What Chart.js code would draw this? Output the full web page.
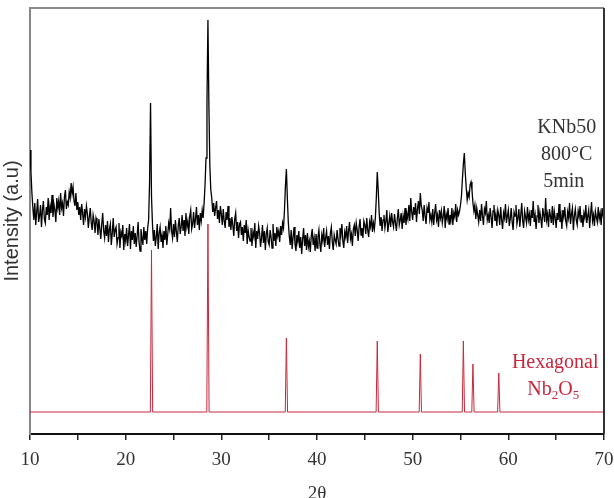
<!DOCTYPE html>
<html>
<head>
<meta charset="utf-8">
<title>KNb50 XRD</title>
<script src="https://cdn.jsdelivr.net/npm/chart.js@4/dist/chart.umd.min.js"></script>
<style>
    body { margin: 0; background: #fff; }
    #wrap { width: 614px; height: 498px; }
</style>
</head>
<body>
<div id="wrap"><canvas id="xrd" width="614" height="498"></canvas></div>
<script>
// 2-theta grid of the measured pattern: 10 to 70 deg, every 0.1 deg
const thetaStart = 10;
const thetaStep = 0.1;

// KNb50, 800°C, 5 min - intensity (arb. units), one row per degree
const sampleIntensity = [
    284, 262, 241, 226, 214, 231, 209, 222, 235, 212,  // 10
    218, 229, 207, 224, 233, 215, 211, 227, 219, 236,  // 11
    214, 228, 221, 239, 217, 230, 224, 212, 236, 226,  // 12
    233, 219, 241, 226, 231, 218, 237, 244, 225, 232,  // 13
    229, 242, 236, 251, 240, 247, 233, 228, 241, 224,  // 14
    232, 219, 227, 214, 230, 221, 209, 225, 217, 228,  // 15
    220, 206, 217, 226, 211, 204, 219, 213, 201, 216,  // 16
    212, 199, 215, 205, 195, 210, 221, 203, 196, 209,  // 17
    198, 213, 192, 205, 210, 189, 201, 216, 197, 204,  // 18
    207, 190, 196, 211, 186, 202, 198, 209, 184, 200,  // 19
    193, 206, 188, 199, 210, 185, 203, 194, 208, 190,  // 20
    201, 187, 198, 212, 192, 183, 205, 196, 189, 207,  // 21
    194, 203, 190, 206, 214, 252, 331, 238, 210, 193,  // 22
    204, 188, 197, 210, 185, 201, 207, 192, 199, 186,  // 23
    203, 194, 208, 189, 200, 211, 205, 226, 203, 196,  // 24
    210, 197, 214, 202, 192, 209, 216, 200, 207, 219,  // 25
    203, 214, 198, 221, 207, 213, 200, 218, 224, 205,  // 26
    210, 222, 206, 215, 227, 209, 219, 204, 221, 213,  // 27
    224, 216, 231, 250, 276, 332, 414, 328, 268, 244,  // 28
    236, 222, 231, 218, 226, 233, 215, 224, 211, 228,  // 29
    220, 209, 225, 213, 206, 222, 214, 228, 207, 216,  // 30
    204, 217, 209, 198, 215, 221, 203, 212, 196, 210,  // 31
    212, 199, 207, 193, 209, 201, 214, 190, 204, 197,  // 32
    193, 206, 188, 202, 197, 211, 186, 203, 195, 208,  // 33
    201, 187, 196, 209, 191, 203, 184, 200, 206, 192,  // 34
    189, 204, 197, 186, 210, 193, 201, 188, 207, 198,  // 35
    203, 192, 208, 199, 211, 206, 224, 248, 265, 236,  // 36
    212, 198, 189, 204, 185, 197, 207, 190, 183, 199,  // 37
    192, 203, 186, 197, 180, 195, 206, 188, 199, 184,  // 38
    201, 187, 193, 182, 198, 205, 189, 196, 183, 200,  // 39
    186, 197, 204, 190, 182, 199, 193, 206, 187, 196,  // 40
    203, 189, 198, 185, 201, 207, 192, 184, 199, 194,  // 41
    190, 204, 195, 188, 206, 199, 210, 193, 186, 202,  // 42
    197, 208, 191, 203, 212, 195, 200, 188, 205, 209,  // 43
    198, 211, 204, 193, 207, 215, 199, 206, 196, 213,  // 44
    209, 200, 216, 204, 197, 212, 207, 219, 202, 211,  // 45
    205, 216, 236, 262, 244, 221, 208, 217, 203, 214,  // 46
    219, 206, 213, 224, 202, 210, 218, 207, 221, 212,  // 47
    207, 220, 211, 203, 216, 225, 209, 214, 221, 205,  // 48
    218, 211, 226, 209, 220, 215, 229, 213, 236, 222,  // 49
    214, 227, 219, 231, 212, 225, 233, 220, 241, 228,  // 50
    224, 213, 229, 218, 210, 226, 221, 232, 214, 219,  // 51
    212, 225, 209, 221, 230, 214, 219, 207, 224, 216,  // 52
    223, 211, 218, 228, 206, 220, 215, 226, 210, 219,  // 53
    214, 226, 209, 221, 217, 230, 212, 224, 219, 223,  // 54
    229, 238, 255, 270, 281, 261, 246, 234, 241, 237,  // 55
    249, 252, 244, 231, 223, 229, 215, 226, 219, 212,  // 56
    224, 213, 230, 218, 209, 225, 221, 233, 214, 219,  // 57
    211, 226, 217, 206, 223, 229, 213, 220, 208, 224,  // 58
    219, 209, 227, 214, 205, 221, 216, 230, 211, 218,  // 59
    224, 208, 215, 226, 212, 204, 222, 218, 229, 210,  // 60
    216, 225, 207, 219, 231, 213, 206, 223, 217, 211,  // 61
    227, 214, 220, 208, 224, 216, 233, 212, 219, 205,  // 62
    218, 229, 211, 222, 215, 206, 226, 219, 212, 236,  // 63
    214, 220, 207, 225, 218, 211, 228, 209, 223, 216,  // 64
    206, 221, 214, 230, 212, 219, 205, 224, 217, 227,  // 65
    213, 208, 222, 216, 231, 210, 220, 226, 204, 218,  // 66
    225, 214, 209, 223, 217, 228, 212, 219, 207, 221,  // 67
    216, 229, 211, 218, 224, 206, 220, 232, 213, 219,  // 68
    208, 223, 217, 212, 227, 215, 221, 209, 226, 218,  // 69
    214                                                // 70
];

// Hexagonal Nb2O5 reference lines
const refPositions = [22.7, 28.6, 36.8, 46.3, 50.8, 55.3, 56.3, 59.0];
const refHeights = [162, 188, 74, 71, 58, 71, 48, 39];
const refBaseline = 22;
const refHalfWidth = 0.12;

const xTicks = [10, 20, 30, 40, 50, 60, 70];

const serif = "'Liberation Serif', 'Times New Roman', serif";
const sans = "'Liberation Sans', Arial, sans-serif";
const refRed = '#c8283c';

// Build the point lists from the arrays above
const samplePoints = sampleIntensity.map((v, i) => ({
    x: +(thetaStart + i * thetaStep).toFixed(1),
    y: v
}));

const refPoints = [{ x: 10, y: refBaseline }];
refPositions.forEach((p, i) => {
    refPoints.push({ x: p - refHalfWidth, y: refBaseline });
    refPoints.push({ x: p, y: refBaseline + refHeights[i] });
    refPoints.push({ x: p + refHalfWidth, y: refBaseline });
});
refPoints.push({ x: 70, y: refBaseline });

// Frame (top + right edges) and the text labels inside the plot
const framePlugin = {
    id: 'frame',
    afterDraw(chart) {
        const { ctx, chartArea: a, scales: { x, y } } = chart;
        ctx.save();
        ctx.lineWidth = 2;
        ctx.strokeStyle = '#8a8a8a';
        ctx.beginPath();
        ctx.moveTo(a.left, a.top);
        ctx.lineTo(a.right, a.top);
        ctx.stroke();
        ctx.strokeStyle = '#333';
        ctx.beginPath();
        ctx.moveTo(a.right, a.top);
        ctx.lineTo(a.right, a.bottom);
        ctx.stroke();

        ctx.textAlign = 'center';
        ctx.textBaseline = 'middle';
        ctx.fillStyle = '#333';
        ctx.font = '20px ' + serif;
        const cx = x.getPixelForValue(66.1);
        ctx.fillText('KNb50', cx, y.getPixelForValue(306));
        ctx.fillText('800°C', cx, y.getPixelForValue(279));
        ctx.fillText('5min', cx - 3, y.getPixelForValue(252));

        ctx.fillStyle = refRed;
        ctx.fillText('Hexagonal', x.getPixelForValue(64.9), y.getPixelForValue(71));

        // Nb2O5 with subscripts
        const big = '20px ' + serif;
        const small = '13px ' + serif;
        const parts = [['Nb', big, 0], ['2', small, 6], ['O', big, 0], ['5', small, 6]];
        let total = 0;
        parts.forEach(([t, f]) => { ctx.font = f; total += ctx.measureText(t).width; });
        let px = x.getPixelForValue(64.7) - total / 2;
        const py = y.getPixelForValue(44);
        ctx.textAlign = 'left';
        parts.forEach(([t, f, dy]) => {
            ctx.font = f;
            ctx.fillText(t, px, py + dy);
            px += ctx.measureText(t).width;
        });
        ctx.restore();
    }
};

const initializeChart = () => {
    const ctx = document.getElementById('xrd').getContext('2d');
    new Chart(ctx, {
        type: 'line',
        data: {
            datasets: [{
                label: 'KNb50 800°C 5min',
                data: samplePoints,
                borderColor: '#000',
                borderWidth: 1.3,
                pointRadius: 0,
                tension: 0
            }, {
                label: 'Hexagonal Nb2O5',
                data: refPoints,
                borderColor: refRed,
                borderWidth: 1,
                pointRadius: 0,
                tension: 0
            }]
        },
        options: {
            responsive: false,
            animation: false,
            layout: { padding: { top: 8, right: 10, left: 0, bottom: 0 } },
            plugins: {
                legend: { display: false },
                tooltip: { enabled: false }
            },
            scales: {
                x: {
                    type: 'linear',
                    min: 10,
                    max: 70,
                    afterFit: (scale) => {
                        scale.height = 64;
                        scale.paddingLeft = 0;
                        scale.paddingRight = 0;
                    },
                    grid: {
                        drawOnChartArea: false,
                        tickLength: 6,
                        color: '#222',
                        lineWidth: 1.5
                    },
                    border: { color: '#111', width: 2 },
                    ticks: {
                        stepSize: 5,
                        autoSkip: false,
                        maxRotation: 0,
                        padding: 9,
                        color: '#333',
                        font: { family: serif, size: 19 },
                        callback: (v) => (xTicks.includes(v) ? v : '')
                    },
                    title: {
                        display: true,
                        text: '2θ',
                        color: '#333',
                        font: { family: serif, size: 19 },
                        padding: { top: 0, bottom: -7 }
                    }
                },
                y: {
                    min: 0,
                    max: 426,
                    afterFit: (scale) => { scale.width = 30; },
                    grid: { drawOnChartArea: false, drawTicks: false },
                    border: { color: '#888', width: 2 },
                    ticks: { display: false },
                    title: {
                        display: true,
                        text: 'Intensity (a.u)',
                        color: '#333',
                        font: { family: sans, size: 20 },
                        padding: 0
                    }
                }
            }
        },
        plugins: [framePlugin]
    });
};

document.addEventListener('DOMContentLoaded', initializeChart);
</script>
</body>
</html>
